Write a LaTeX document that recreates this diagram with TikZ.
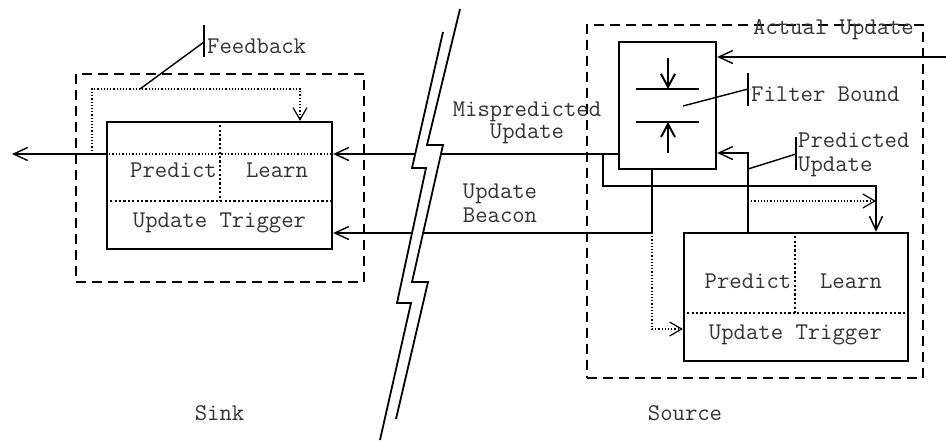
\documentclass[tikz,border=0pt]{standalone}
\usetikzlibrary{arrows.meta}
\begin{document}
\begin{tikzpicture}[x=1pt,y=-1pt,
  txt/.style={font=\fontsize{24}{23}\selectfont\ttfamily, inner sep=0pt, text=black!80},
  box/.style={draw, line width=2.4pt, inner sep=0pt},
  dbox/.style={draw, line width=1.6pt, dash pattern=on 10pt off 6pt, inner sep=0pt},
  conn/.style={line width=1.4pt},
  arr/.style={conn, -{Straight Barb[length=14pt,width=13pt]}},
  dotarr/.style={line width=1.2pt, dotted, -{Straight Barb[length=12pt,width=14pt]}},
  divthin/.style={line width=1.3pt, dotted},
  divthick/.style={line width=2.2pt, dash pattern=on 2.2pt off 2.2pt},
  bolt/.style={line width=1.8pt},
  tick/.style={line width=1.6pt}]
\useasboundingbox (0,0) rectangle (946,440);

% dashed enclosures
\node[dbox, minimum width=288pt, minimum height=208pt] (sd) at (220,178) {};
\node[dbox, minimum width=336pt, minimum height=353pt] (srd) at (755,201.5) {};

% main boxes
\node[box, minimum width=225pt, minimum height=127pt] (sk) at (219.5,185.5) {};
\node[box, minimum width=97pt, minimum height=127pt] (fb) at (667.5,105.5) {};
\node[box, minimum width=224pt, minimum height=128pt] (sb) at (796,297) {};

% sink box internals
\draw[divthin] (sk.west |- 0,154) -- (sk.east |- 0,154);
\draw[divthick] (sk.west |- 0,201) -- (sk.east |- 0,201);
\draw[divthick] (sk.north -| 220,0) -- (220,201);
\node[txt] (skp) at (173.5,170) {Predict};
\node[txt] (skl) at (277,170) {Learn};
\node[txt] (skt) at (219.5,223) {Update Trigger};

% source box internals
\draw[divthick] (sb.west |- 0,313) -- (sb.east |- 0,313);
\draw[divthick] (sb.north -| 795,0) -- (795,313);
\node[txt] (sbp) at (748,281) {Predict};
\node[txt] (sbl) at (851,281) {Learn};
\node[txt] (sbt) at (795.5,335) {Update Trigger};

% filter internals
\coordinate (f1l) at (636,89); \coordinate (f1r) at (699,89);
\coordinate (f2l) at (636,122); \coordinate (f2r) at (699,122);
\draw[line width=2pt] (f1l) -- (f1r);
\draw[line width=2pt] (f2l) -- (f2r);
\coordinate (fa1) at (668,58); \coordinate (fa2) at (668,153);
\draw[line width=2pt, -{Straight Barb[length=13pt,width=14pt]}] (fa1) -- (f1l -| fa1);
\draw[line width=2pt, -{Straight Barb[length=13pt,width=14pt]}] (fa2) -- (f2l -| fa2);

% connectors
\coordinate (ain) at (946,57);
\draw[arr] (ain) -- (fb.east |- ain);
\coordinate (sout) at (12,154);
\draw[arr] (sk.west |- sout) -- (sout);
\draw[arr] (fb.west |- 0,154) -- (sk.east |- 0,154);
\coordinate (mb) at (603,154);
\draw[arr] (mb) -- (603,186) -- (876,186) -- (sb.north -| 876,0);
\coordinate (pu) at (748,233);
\draw[arr] (pu) |- (fb.east |- 0,153);
\coordinate (pd) at (748,201);
\draw[dotarr] (pd) -- (876,201);
\draw[arr] (fb.south -| 652,0) |- (sk.east |- 0,233);
\coordinate (bd) at (652,233);
\draw[dotarr] (bd) |- (sb.west |- 0,329);
\coordinate (fbk) at (92,154);
\draw[dotarr] (fbk) |- (300,89) -- (sk.north -| 300,0);

% lightning break
\fill[white] (443,32) -- (412,168) -- (426,168) -- (397,303) -- (411,303) -- (380,440)
  -- (396,419) -- (428,282) -- (412,282) -- (443,145) -- (427,145) -- (460,9) -- cycle;
\draw[bolt] (443,32) -- (412,168) -- (426,168) -- (397,303) -- (411,303) -- (380,440);
\draw[bolt] (460,9) -- (427,145) -- (443,145) -- (412,282) -- (428,282) -- (396,419);

% callout labels
\draw[conn] (140,89) -- (204,42);
\draw[tick] (204,25) -- (204,57);
\node[txt, anchor=west] (fbl) at (207,46) {Feedback};

\draw[conn] (683,106) -- (748,89);
\draw[tick] (748,73) -- (748,106);
\node[txt, anchor=west] (fbd) at (751,94) {Filter Bound};

\draw[conn] (748,169) -- (796,154);
\draw[tick] (796,137) -- (796,170);
\node[txt, anchor=west, align=left, font=\fontsize{24}{24}\selectfont\ttfamily] (pul) at (798,155) {Predicted\\Update};

\node[txt, align=center, font=\fontsize{24}{22}\selectfont\ttfamily] (mul) at (527,123) {Mispredicted\\Update};
\node[txt, align=center, font=\fontsize{24}{24}\selectfont\ttfamily] (ubl) at (500,203) {Update\\Beacon};
\node[txt] (aul) at (833.5,30) {Actual Update};

\node[txt] (sinkl) at (219.5,413) {Sink};
\node[txt] (srcl) at (685,413) {Source};
\end{tikzpicture}
\end{document}
